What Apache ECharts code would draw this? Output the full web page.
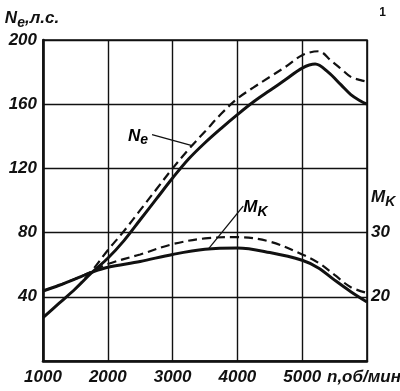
<!DOCTYPE html>
<html><head><meta charset="utf-8">
<script src="https://cdn.jsdelivr.net/npm/echarts@6/dist/echarts.min.js"></script>
<style>html,body{margin:0;padding:0;background:#fff}#c{width:400px;height:391px}</style>
</head><body><div id="c"></div>
<script>
// ---- data (rpm, n об/мин) ----
const rpmNeSolid  = [1000,1250,1500,1750,2000,2250,2500,2750,3000,3250,3500,3750,4000,4250,4500,4750,5000,5200,5400,5600,5750,5900,6000];
const neSolid     = [27,36,45,55,64,75,88,101,114,126,136,145,153.5,161.5,168.5,175.5,182.5,185,180,172,166,162,160];
const rpmNeDashed = [1500,1750,2000,2250,2500,2750,3000,3250,3500,3750,4000,4250,4500,4750,5000,5250,5450,5600,5750,5900,6000];
const neDashed    = [45,56,69,81,94,107,120,132,143,154,163.5,170.5,177,183.5,190.5,193,187,182,177,175,174];
const rpmMk       = [1000,1250,1500,1750,2000,2500,3000,3500,4000,4500,5000,5250,5500,5750,6000];
const mkSolid     = [20.9,21.8,22.8,23.8,24.6,25.5,26.6,27.4,27.6,26.9,25.7,24.5,22.6,20.8,19.2];
const mkDashed    = [20.9,21.8,22.8,23.9,25.1,26.6,28.2,29.1,29.3,28.6,26.6,25.3,23.4,21.5,20.6];
const xTicks = [1000,2000,3000,4000,5000];
const yLeftTicks = [40,80,120,160,200];
const yRightTicks = [20,30];

const FONT = "'Liberation Sans Narrow','Liberation Sans',sans-serif";
const INK = '#111';
const lbl = {fontFamily: FONT, fontStyle: 'italic', fontWeight: 'bold', fontSize: 17, color: INK};
const rich = {
  m: {fontFamily: FONT, fontStyle: 'italic', fontWeight: 'bold', fontSize: 17, color: INK, lineHeight: 18, verticalAlign: 'top'},
  s: {fontFamily: FONT, fontStyle: 'italic', fontWeight: 'bold', fontSize: 14, color: INK, lineHeight: 15, padding: [6,0,0,0], verticalAlign: 'top'}
};
const pairs = (xs, ys) => xs.map((x, i) => [x, ys[i]]);

const chart = echarts.init(document.getElementById('c'), null, {renderer: 'canvas'});
const option = {
  animation: false,
  backgroundColor: '#fff',
  title: {text: '1', right: 9, top: 2, textStyle: {fontFamily: FONT, fontSize: 12, fontWeight: 'bold', color: INK}},
  grid: {left: 43, right: 33, top: 40, bottom: 30, show: true, borderColor: INK, borderWidth: 1.6,
         outerBoundsMode: 'none', containLabel: false},
  xAxis: {
    type: 'value', min: 1000, max: 6000, interval: 1000,
    axisLine: {lineStyle: {color: INK, width: 2.6}},
    axisTick: {show: false},
    splitLine: {lineStyle: {color: INK, width: 1.4}},
    axisLabel: Object.assign({}, lbl, {margin: 8, formatter: v => xTicks.includes(v) ? String(v) : ''}),
    name: 'n,об/мин', nameLocation: 'end', nameGap: -24,
    nameTextStyle: Object.assign({}, lbl, {fontSize: 17, align: 'right', verticalAlign: 'top', padding: [8,0,0,0]})
  },
  yAxis: [
    {
      type: 'value', min: 0, max: 200, interval: 40,
      axisLine: {show: true, lineStyle: {color: INK, width: 2.6}},
      axisTick: {show: false},
      splitLine: {lineStyle: {color: INK, width: 1.4}},
      axisLabel: Object.assign({}, lbl, {margin: 6, formatter: v => yLeftTicks.includes(v) ? String(v) : ''}),
      name: '{m|N}{s|e}{m|,л.с.}', nameLocation: 'end', nameGap: 12,
      nameTextStyle: {align: 'center', padding: [0,22,0,0], rich: rich}
    },
    {
      type: 'value', position: 'right', min: 10, max: 60, interval: 10,
      axisLine: {show: false}, axisTick: {show: false}, splitLine: {show: false},
      axisLabel: Object.assign({}, lbl, {margin: 4, formatter: v => yRightTicks.includes(v) ? String(v) : ''}),
      name: '{m|M}{s|K}', nameLocation: 'end', nameGap: -158,
      nameTextStyle: {align: 'left', verticalAlign: 'middle', padding: [0,0,0,4], rich: rich}
    }
  ],
  series: [
    {type: 'line', name: 'Ne', data: pairs(rpmNeSolid, neSolid), smooth: 0.35, showSymbol: false,
     lineStyle: {color: INK, width: 3}},
    {type: 'line', name: 'Ne dashed', data: pairs(rpmNeDashed, neDashed), smooth: 0.35, showSymbol: false,
     lineStyle: {color: INK, width: 2.2, type: [9,5]}},
    {type: 'line', name: 'Mk', yAxisIndex: 1, data: pairs(rpmMk, mkSolid), smooth: 0.35, showSymbol: false,
     lineStyle: {color: INK, width: 3}},
    {type: 'line', name: 'Mk dashed', yAxisIndex: 1, data: pairs(rpmMk, mkDashed), smooth: 0.35, showSymbol: false,
     lineStyle: {color: INK, width: 2.2, type: [9,5]}}
  ]
};
chart.setOption(option);

function interp(xs, ys, x) {
  for (let i = 0; i < xs.length - 1; i++) {
    if (x >= xs[i] && x <= xs[i+1]) {
      const t = (x - xs[i]) / (xs[i+1] - xs[i]);
      return ys[i] + t * (ys[i+1] - ys[i]);
    }
  }
  return ys[ys.length - 1];
}
const pNe = chart.convertToPixel({xAxisIndex: 0, yAxisIndex: 0}, [3300, interp(rpmNeDashed, neDashed, 3300)]);
const pMk = chart.convertToPixel({xAxisIndex: 0, yAxisIndex: 1}, [3550, interp(rpmMk, mkSolid, 3550)]);
chart.setOption({graphic: [
  {type: 'line', shape: {x1: pNe[0], y1: pNe[1], x2: pNe[0] - 40, y2: pNe[1] - 11}, style: {stroke: INK, lineWidth: 1.3}},
  {type: 'text', x: pNe[0] - 44, y: pNe[1] - 9, style: {text: '{m|N}{s|e}', align: 'right', verticalAlign: 'middle', rich: rich}},
  {type: 'line', shape: {x1: pMk[0], y1: pMk[1], x2: pMk[0] + 35, y2: pMk[1] - 43}, style: {stroke: INK, lineWidth: 1.3}},
  {type: 'text', x: pMk[0] + 35, y: pMk[1] - 41, style: {text: '{m|M}{s|K}', align: 'left', verticalAlign: 'middle', rich: rich}}
]});
</script>
</body></html>
